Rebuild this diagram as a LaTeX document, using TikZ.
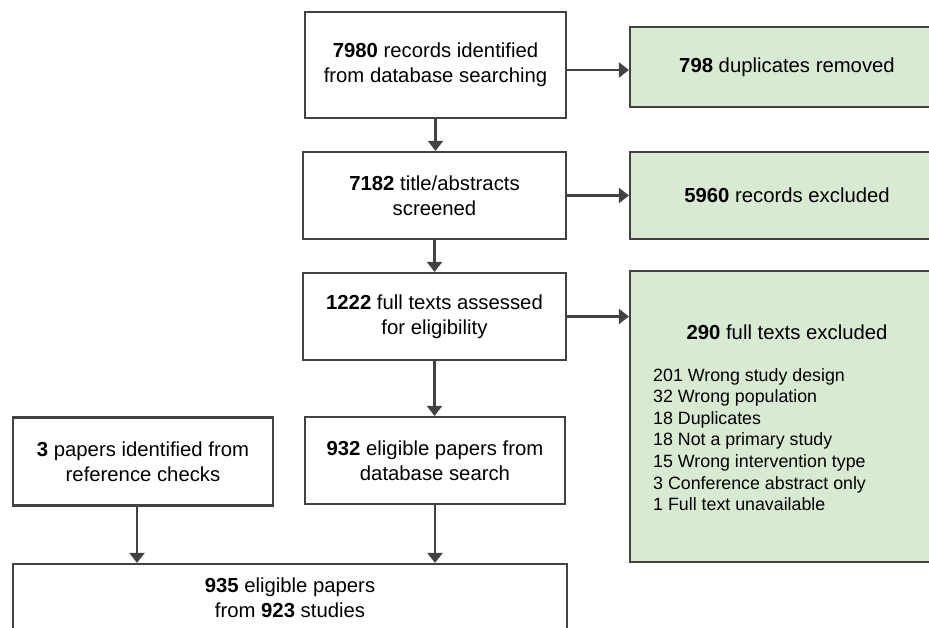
\documentclass[tikz,border=0pt]{standalone}
\usepackage{fontspec}
\setmainfont{Liberation Sans}
\usetikzlibrary{arrows.meta}
\definecolor{edge}{HTML}{424242}
\definecolor{greenfill}{HTML}{D9EAD3}
\tikzset{
  box/.style={draw=edge, line width=2.2pt, fill=white, rectangle, inner sep=0pt, align=center,
     font=\fontsize{20.3}{24.6}\selectfont, text=black},
  gbox/.style={box, fill=greenfill},
  arr/.style={draw=edge, line width=2.2pt, -{Triangle[width=15pt,length=10pt]}},
}
\begin{document}
\begin{tikzpicture}[x=1pt,y=-1pt]
\useasboundingbox (0,0) rectangle (929,628);
\node[box, minimum width=261pt, minimum height=106pt] (b1) at (435.5,65) {\textbf{7980} records identified\\from database searching};
\node[box, minimum width=263pt, minimum height=87pt] (b2) at (434.5,195.5) {\textbf{7182} title/abstracts\\screened};
\node[box, minimum width=263pt, minimum height=87pt] (b3) at (434.5,316.5) {\textbf{1222} full texts assessed\\for eligibility};
\node[gbox, minimum width=314pt, minimum height=80pt] (g1) at (787,67) {\textbf{798} duplicates removed};
\node[gbox, minimum width=314pt, minimum height=87pt] (g2) at (787,195.5) {\textbf{5960} records excluded};
\node[gbox, minimum width=314pt, minimum height=291pt] (g3) at (787,416.5) {};
\node[font=\fontsize{20.3}{24.6}\selectfont, inner sep=0pt] (g3t) at (787,332) {\textbf{290} full texts excluded};
\node[font=\fontsize{17.8}{21.6}\selectfont, inner sep=0pt, align=left, anchor=north west] (g3l) at (653,368)
  {201 Wrong study design\\32 Wrong population\\18 Duplicates\\18 Not a primary study\\15 Wrong intervention type\\3 Conference abstract only\\1 Full text unavailable};
\node[box, minimum width=260pt, minimum height=88pt] (p3) at (143,461.5) {\textbf{3} papers identified from\\reference checks};
\node[box, minimum width=260pt, minimum height=87pt] (p932) at (435,460.5) {\textbf{932} eligible papers from\\database search};
\node[box, minimum width=554pt, minimum height=68pt] (fin) at (290,598) {\textbf{935} eligible papers\\from \textbf{923} studies};
\coordinate (y1) at (0,70);
\draw[arr] (b1.east |- y1) -- (g1.west |- y1);
\draw[arr] (b1.south) -- (b1.south |- b2.north);
\draw[arr] (b2.east) -- (b2.east -| g2.west);
\draw[arr] (b2.south) -- (b2.south |- b3.north);
\draw[arr] (b3.east) -- (b3.east -| g3.west);
\draw[arr] (b3.south) -- (b3.south |- p932.north);
\draw[arr] ([xshift=-6pt]p3.south) -- ([xshift=-6pt]p3.south |- fin.north);
\draw[arr] (p932.south) -- (p932.south |- fin.north);
\end{tikzpicture}
\end{document}
